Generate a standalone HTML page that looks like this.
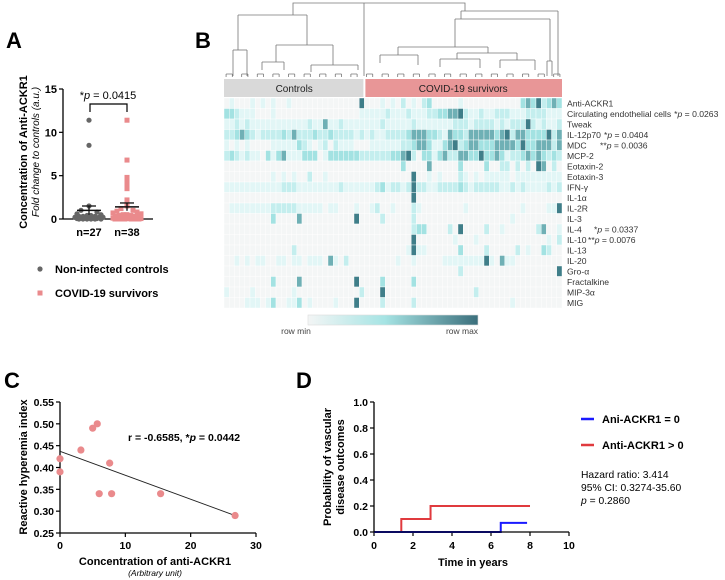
<!DOCTYPE html>
<html><head><meta charset="utf-8"><style>
body{margin:0;background:#fff}
svg{display:block;font-family:"Liberation Sans",Arial,sans-serif}
</style></head><body>
<svg id="fig" width="725" height="580" viewBox="0 0 725 580">
<g id="panelA"></g>
<g id="panelB"></g>
<g id="panelC"></g>
<g id="panelD"></g>
</svg>
<script>
// ---------- data ----------
const aControls = [11.4, 8.5, 1.5, 1.0, 0.8, 0.6, 0.5, 0.4, 0.4, 0.3, 0.3, 0.3, 0.2, 0.2, 0.2, 0.1, 0.1, 0.1, 0.1, 0.05, 0.05, 0.0, 0.0, 0.0, 0.0, 0.0, 0.0];
const aCovid = [11.4, 6.8, 4.8, 4.5, 4.2, 3.7, 3.5, 2.2, 1.5, 1.2, 1.0, 0.9, 0.8, 0.7, 0.6, 0.5, 0.5, 0.4, 0.4, 0.3, 0.3, 0.3, 0.2, 0.2, 0.2, 0.1, 0.1, 0.1, 0.1, 0.05, 0.05, 0.0, 0.0, 0.0, 0.0, 0.0, 0.0, 0.0];
const aMeans = [1.0, 1.4];
const aSem = [0.5, 0.45];
const aTicks = [0, 5, 10, 15];

const hmRows = ["Anti-ACKR1","Circulating endothelial cells","Tweak","IL-12p70","MDC","MCP-2","Eotaxin-2","Eotaxin-3","IFN-γ","IL-1α","IL-2R","IL-3","IL-4","IL-10","IL-13","IL-20","Gro-α","Fractalkine","MIP-3α","MIG"];
const hmPvals = ["","*p = 0.0263","","*p = 0.0404","**p = 0.0036","","","","","","","","*p = 0.0337","**p = 0.0076","","","","","",""];
const hmControls = [
"01000 10101 00100 00000 00000 05","33211 10001 00000 00000 00000 01","11212 11111 11111 12114 11211 11",
"22343 21222 23242 22322 32222 12","10101 00001 11113 21012 02111 00","23212 11031 34111 33301 33333 32",
"00000 00000 00000 00000 00000 00","00000 00001 01010 02001 00000 00","11111 11111 12221 11111 11211 11",
"00000 00000 00000 00000 00000 00","01111 11112 22221 11110 11000 10","00000 00003 00004 00000 00000 50",
"00000 00000 00000 00000 00000 00","00000 00000 00000 00000 00000 00","00000 00000 00020 00000 00000 00",
"00101 01100 11011 01110 41020 00","00000 00000 00000 00000 00000 00","00000 00003 00004 00000 00000 50",
"10000 10000 00010 00000 00000 02","00001 11013 00113 01000 01000 50"];
const hmCovid = [
"00010 10201 02300 00010 00000 00000 34352 343","11112 11121 11223 34452 11211 22211 12222 111",
"11121 11112 11111 11222 12222 12122 25212 112","12112 22234 44332 14332 44444 34524 43333 524",
"01111 11223 44311 34523 44333 44443 53344 424","22222 33452 03313 42244 33533 43122 34343 232",
"00000 00300 00400 00030 00030 02202 02054 020","00000 00005 00101 00021 01011 11101 11111 111",
"11231 22125 22112 22232 12222 21121 21111 212","00000 00005 00000 00000 00000 00000 00000 000",
"01200 10002 10000 00001 00000 00000 10000 115","00020 00002 00000 00000 00000 00010 00000 000",
"00000 00002 33000 02050 00020 01000 00024 001","00000 00005 00000 00100 01000 00000 00000 102",
"00000 00015 11000 00030 00020 00002 01003 200","00000 01001 00000 11111 11151 04110 00000 000",
"00000 00000 00000 00020 00000 00000 00000 005","00030 00003 00000 00000 00000 00000 00000 000",
"00050 00000 00000 00000 02000 00000 00000 000","00020 00002 00000 00000 00000 00010 00000 000"];
const hmColors = ["#f4f6f6","#e2f6f6","#c4eeee","#a3e2e2","#6fb0b5","#3f7e89"];

const cX = [0, 0, 3.2, 5.0, 5.7, 6.0, 7.6, 7.9, 15.4, 26.8];
const cY = [0.42, 0.39, 0.44, 0.49, 0.50, 0.34, 0.41, 0.34, 0.34, 0.29];
const cFit = [[0, 0.437], [26.8, 0.290]];
const cXTicks = [0, 10, 20, 30];
const cYTicks = [0.25, 0.30, 0.35, 0.40, 0.45, 0.50, 0.55];

const dRedT = [0, 1.4, 2.9, 8.0];
const dRedP = [0, 0.1, 0.2, 0.2];
const dBlueT = [0, 6.5, 7.85];
const dBlueP = [0, 0.07, 0.07];
const dXTicks = [0, 2, 4, 6, 8, 10];
const dYTicks = [0, 0.2, 0.4, 0.6, 0.8, 1.0];

// ---------- helpers ----------
const NS = "http://www.w3.org/2000/svg";
function mk(parent, tag, attrs, text) {
  const e = document.createElementNS(NS, tag);
  for (const k in attrs) e.setAttribute(k, attrs[k]);
  if (text !== undefined) e.textContent = text;
  parent.appendChild(e);
  return e;
}
function named(e, name) {
  
  
  return e;
}

// ---------- panel labels ----------
const fig = document.getElementById('fig');
[["A",6,48],["B",195,48],["C",4,388],["D",296,388]].forEach(p => {
  const t = mk(fig, 'text', {x:p[1], y:p[2], 'font-size':22, 'font-weight':'bold'}, p[0]);
  
  
});

// ---------- Panel A ----------
(function(){
  const g = document.getElementById('panelA');
  const x0 = 63, y0 = 219, yTop = 89;
  const ya = v => y0 - v / 15 * (y0 - yTop);
  const groupX = [89, 127];
  named(mk(g,'line',{x1:x0,y1:yTop,x2:x0,y2:y0,stroke:'#000','stroke-width':1.3}),'a-y-axis');
  named(mk(g,'line',{x1:x0,y1:y0,x2:153,y2:y0,stroke:'#000','stroke-width':1.3}),'a-x-axis');
  aTicks.forEach(v => {
    named(mk(g,'line',{x1:x0-4,y1:ya(v),x2:x0,y2:ya(v),stroke:'#000','stroke-width':1.2}),'a-y-tick');
    named(mk(g,'text',{x:x0-6,y:ya(v)+4,'font-size':11,'font-weight':'bold','text-anchor':'end'},v),'a-y-tick-label');
  });
  named(mk(g,'text',{x:groupX[0],y:236,'font-size':11,'font-weight':'bold','text-anchor':'middle'},'n=27'),'a-x-label-controls');
  named(mk(g,'text',{x:groupX[1],y:236,'font-size':11,'font-weight':'bold','text-anchor':'middle'},'n=38'),'a-x-label-covid');
  named(mk(g,'text',{x:0,y:0,'font-size':11,'font-weight':'bold','text-anchor':'middle',transform:'translate(27,152) rotate(-90)'},'Concentration of Anti-ACKR1'),'a-y-axis-title');
  named(mk(g,'text',{x:0,y:0,'font-size':10,'font-style':'italic','text-anchor':'middle',transform:'translate(39,152) rotate(-90)'},'Fold change to controls (a.u.)'),'a-y-axis-subtitle');
  const off = [0,-4,4,-8,8,-12,12,-2,2,-6,6,-10,10,-14,14];
  aControls.forEach((v,i) => {
    const c = mk(g,'circle',{cx:groupX[0]+(v>1?0:off[i%off.length]),cy:ya(v),r:2.6,fill:'#666'});
    
    
  });
  aCovid.forEach((v,i) => {
    const s = mk(g,'rect',{x:groupX[1]+(v>1.3?0:off[i%off.length])-2.5,y:ya(v)-2.5,width:5,height:5,fill:'#ea8a8c'});
    
    
  });
  aMeans.forEach((m,i) => {
    const x = groupX[i];
    named(mk(g,'line',{x1:x-12,y1:ya(m),x2:x+12,y2:ya(m),stroke:'#111','stroke-width':1.5}),'a-mean-bar');
    named(mk(g,'line',{x1:x,y1:ya(m-aSem[i]),x2:x,y2:ya(m+aSem[i]),stroke:'#111','stroke-width':1.3}),'a-sem-bar');
    named(mk(g,'line',{x1:x-7,y1:ya(m+aSem[i]),x2:x+7,y2:ya(m+aSem[i]),stroke:'#111','stroke-width':1.3}),'a-sem-cap');
  });
  named(mk(g,'path',{d:`M${groupX[0]+1},112 V104 H${groupX[1]} V112`,fill:'none',stroke:'#000','stroke-width':1.2}),'a-significance-bracket');
  const pt = named(mk(g,'text',{x:108,y:99,'font-size':11,'text-anchor':'middle'}),'a-p-value');
  pt.innerHTML = '*<tspan font-style="italic">p</tspan> = 0.0415';
  named(mk(g,'circle',{cx:40,cy:269,r:2.6,fill:'#666'}),'legend-marker-controls');
  named(mk(g,'text',{x:55,y:273,'font-size':11,'font-weight':'bold'},'Non-infected controls'),'legend-label-controls');
  named(mk(g,'rect',{x:37.5,y:290.5,width:5,height:5,fill:'#ea8a8c'}),'legend-marker-covid');
  named(mk(g,'text',{x:55,y:297,'font-size':11,'font-weight':'bold'},'COVID-19 survivors'),'legend-label-covid');
})();

// ---------- Panel B ----------
(function(){
  const g = document.getElementById('panelB');
  const hx0 = 224, hx1 = 562, hy0 = 98, rowH = 10.5;
  const nCols = 65, colW = (hx1-hx0)/nCols;
  const dg = named(mk(g,'g',{stroke:'#777','stroke-width':0.8,fill:'none'}),'column-dendrogram');
  const dpaths = [
    "M293,15 V3 H465 V11","M364,3 V76",
    "M238,15 H307","M238,15 V50","M233,50 H247","M233,50 V76","M247,50 V76",
    "M307,15 V45","M276,45 H333","M276,45 V62","M262,62 H284 M262,62 V70 M284,62 V70",
    "M333,45 V65","M311,65 H358 M311,65 V72 M358,65 V70",
    "M461,11 H558 M558,11 V76","M461,11 V19","M455,19 H550 M455,19 V47 M550,19 V61 M547,61 H552 M547,61 V76 M552,61 V76",
    "M398,47 H488 M398,47 V55 M488,47 V53",
    "M380,55 H418 M380,55 V63 M418,55 V65","M457,53 H517 M457,53 V59 M517,53 V60",
    "M440,59 H480 M440,59 V67 M480,59 V68","M500,60 H535 M500,60 V68 M535,60 V70"
  ];
  dpaths.forEach(d => mk(dg,'path',{d:d}));
  for (let c = 0; c < nCols-1; c+=3) {
    const x = hx0 + (c+1)*colW;
    mk(dg,'path',{d:`M${x-colW*0.6},74 H${x+colW*0.6} M${x-colW*0.6},74 V77 M${x+colW*0.6},74 V77`});
  }
  named(mk(g,'rect',{x:hx0,y:79,width:27*colW-1,height:18,fill:'#d9d9d9'}),'controls-group-bar');
  named(mk(g,'text',{x:hx0+27*colW/2,y:92,'font-size':10,'text-anchor':'middle',fill:'#222'},'Controls'),'controls-group-label');
  named(mk(g,'rect',{x:hx0+27*colW+1,y:79,width:38*colW-1,height:18,fill:'#e89697'}),'covid-group-bar');
  named(mk(g,'text',{x:hx0+27*colW+38*colW/2,y:92,'font-size':10,'text-anchor':'middle',fill:'#222'},'COVID-19 survivors'),'covid-group-label');
  const pPos = {3:604, 4:600, 12:594, 13:588};
  hmRows.forEach((name, r) => {
    const vals = (hmControls[r] + hmCovid[r]).replace(/ /g,'');
    for (let c = 0; c < nCols; c++) {
      const lv = +(vals[c] || 0);
      const cell = mk(g,'rect',{x:hx0+c*colW,y:hy0+r*rowH,width:colW,height:rowH,fill:hmColors[lv],stroke:'#fff','stroke-width':0.4});
      
      
    }
    const lab = mk(g,'text',{x:hx1+5,y:hy0+r*rowH+8.5,'font-size':8.6,fill:'#333'});
    
    
    lab.textContent = name;
    if (hmPvals[r]) {
      const px = pPos[r] !== undefined ? pPos[r] : hx1+5+lab.getComputedTextLength()+3;
      const p = mk(g,'text',{x:px,y:hy0+r*rowH+8.5,'font-size':8.6,fill:'#333'});
      
      
      const stars = hmPvals[r].split('p')[0];
      p.innerHTML = stars + '<tspan font-style="italic">p</tspan>' + hmPvals[r].slice(stars.length+1);
    }
  });
  const defs = mk(g,'defs',{});
  const lg = mk(defs,'linearGradient',{id:'cb',x1:0,x2:1,y1:0,y2:0});
  mk(lg,'stop',{offset:'0','stop-color':'#f3f5f5'});
  mk(lg,'stop',{offset:'0.45','stop-color':'#a6e4e4'});
  mk(lg,'stop',{offset:'1','stop-color':'#3b6f7c'});
  named(mk(g,'rect',{x:308,y:315,width:170,height:10,fill:'url(#cb)',stroke:'#ddd','stroke-width':0.6}),'colorbar');
  named(mk(g,'text',{x:296,y:334,'font-size':8.5,fill:'#444','text-anchor':'middle'},'row min'),'colorbar-min-label');
  named(mk(g,'text',{x:462,y:334,'font-size':8.5,fill:'#444','text-anchor':'middle'},'row max'),'colorbar-max-label');
})();

// ---------- Panel C ----------
(function(){
  const g = document.getElementById('panelC');
  const x0 = 60, x1 = 256, yB = 533, yT = 402;
  const sx = v => x0 + v/30*(x1-x0);
  const sy = v => yB - (v-0.25)/0.30*(yB-yT);
  named(mk(g,'line',{x1:x0,y1:yT,x2:x0,y2:yB,stroke:'#000','stroke-width':1.3}),'c-y-axis');
  named(mk(g,'line',{x1:x0,y1:yB,x2:x1,y2:yB,stroke:'#000','stroke-width':1.3}),'c-x-axis');
  cYTicks.forEach(v => {
    named(mk(g,'line',{x1:x0-4,y1:sy(v),x2:x0,y2:sy(v),stroke:'#000','stroke-width':1.2}),'c-y-tick');
    named(mk(g,'text',{x:x0-6,y:sy(v)+4,'font-size':10.5,'font-weight':'bold','text-anchor':'end'},v.toFixed(2)),'c-y-tick-label');
  });
  cXTicks.forEach(v => {
    named(mk(g,'line',{x1:sx(v),y1:yB,x2:sx(v),y2:yB+4,stroke:'#000','stroke-width':1.2}),'c-x-tick');
    named(mk(g,'text',{x:sx(v),y:yB+16,'font-size':10.5,'font-weight':'bold','text-anchor':'middle'},v),'c-x-tick-label');
  });
  named(mk(g,'line',{x1:sx(cFit[0][0]),y1:sy(cFit[0][1]),x2:sx(cFit[1][0]),y2:sy(cFit[1][1]),stroke:'#222','stroke-width':0.9}),'c-regression-line');
  cX.forEach((v,i) => {
    const c = mk(g,'circle',{cx:sx(v),cy:sy(cY[i]),r:3.6,fill:'#ea8a8c'});
    
    
  });
  const t = named(mk(g,'text',{x:128,y:441,'font-size':10.5,'font-weight':'bold'}),'c-correlation-text');
  t.innerHTML = 'r = -0.6585, *<tspan font-style="italic">p</tspan> = 0.0442';
  named(mk(g,'text',{x:0,y:0,'font-size':11,'font-weight':'bold','text-anchor':'middle',transform:'translate(27,467) rotate(-90)'},'Reactive hyperemia index'),'c-y-axis-title');
  named(mk(g,'text',{x:155,y:565,'font-size':11,'font-weight':'bold','text-anchor':'middle'},'Concentration of anti-ACKR1'),'c-x-axis-title');
  named(mk(g,'text',{x:155,y:576,'font-size':8.5,'font-style':'italic','text-anchor':'middle'},'(Arbitrary unit)'),'c-x-axis-subtitle');
})();

// ---------- Panel D ----------
(function(){
  const g = document.getElementById('panelD');
  const x0 = 374, x1 = 569, yB = 532, yT = 402;
  const sx = v => x0 + v/10*(x1-x0);
  const sy = v => yB - v*(yB-yT);
  dYTicks.forEach(v => {
    named(mk(g,'line',{x1:x0-4,y1:sy(v),x2:x0,y2:sy(v),stroke:'#000','stroke-width':1.2}),'d-y-tick');
    named(mk(g,'text',{x:x0-6,y:sy(v)+4,'font-size':10.5,'font-weight':'bold','text-anchor':'end'},v.toFixed(1)),'d-y-tick-label');
  });
  dXTicks.forEach(v => {
    named(mk(g,'line',{x1:sx(v),y1:yB,x2:sx(v),y2:yB+4,stroke:'#000','stroke-width':1.2}),'d-x-tick');
    named(mk(g,'text',{x:sx(v),y:yB+17,'font-size':10.5,'font-weight':'bold','text-anchor':'middle'},v),'d-x-tick-label');
  });
  function step(T,P){
    let d = `M${sx(T[0])},${sy(P[0])}`;
    for (let i=1;i<T.length;i++){ d += ` H${sx(T[i])} V${sy(P[i])}`; }
    return d;
  }
  named(mk(g,'path',{d:step(dRedT,dRedP),fill:'none',stroke:'#e03a3e','stroke-width':2}),'d-curve-positive');
  named(mk(g,'path',{d:step(dBlueT,dBlueP),fill:'none',stroke:'#1a1aff','stroke-width':2}),'d-curve-zero');
  named(mk(g,'line',{x1:x0,y1:yT,x2:x0,y2:yB,stroke:'#000','stroke-width':1.3}),'d-y-axis');
  named(mk(g,'line',{x1:x0,y1:yB,x2:x1,y2:yB,stroke:'#000','stroke-width':1.3}),'d-x-axis');
  named(mk(g,'text',{x:0,y:0,'font-size':11,'font-weight':'bold','text-anchor':'middle',transform:'translate(331,467) rotate(-90)'},'Probability of vascular'),'d-y-axis-title-1');
  named(mk(g,'text',{x:0,y:0,'font-size':11,'font-weight':'bold','text-anchor':'middle',transform:'translate(344,467) rotate(-90)'},'disease outcomes'),'d-y-axis-title-2');
  named(mk(g,'text',{x:473,y:566,'font-size':11,'font-weight':'bold','text-anchor':'middle'},'Time in years'),'d-x-axis-title');
  named(mk(g,'line',{x1:581,y1:419,x2:594,y2:419,stroke:'#1a1aff','stroke-width':2.5}),'legend-line-zero');
  named(mk(g,'text',{x:602,y:423,'font-size':11,'font-weight':'bold'},'Ani-ACKR1 = 0'),'legend-label-zero');
  named(mk(g,'line',{x1:581,y1:445,x2:594,y2:445,stroke:'#e03a3e','stroke-width':2.5}),'legend-line-positive');
  named(mk(g,'text',{x:602,y:449,'font-size':11,'font-weight':'bold'},'Anti-ACKR1 > 0'),'legend-label-positive');
  named(mk(g,'text',{x:581,y:478,'font-size':10.3},'Hazard ratio: 3.414'),'hazard-ratio-text');
  named(mk(g,'text',{x:581,y:491,'font-size':10.3},'95% CI: 0.3274-35.60'),'ci-text');
  const p = named(mk(g,'text',{x:581,y:504,'font-size':10.3}),'d-p-value');
  p.innerHTML = '<tspan font-style="italic">p</tspan> = 0.2860';
})();
</script>
</body></html>
